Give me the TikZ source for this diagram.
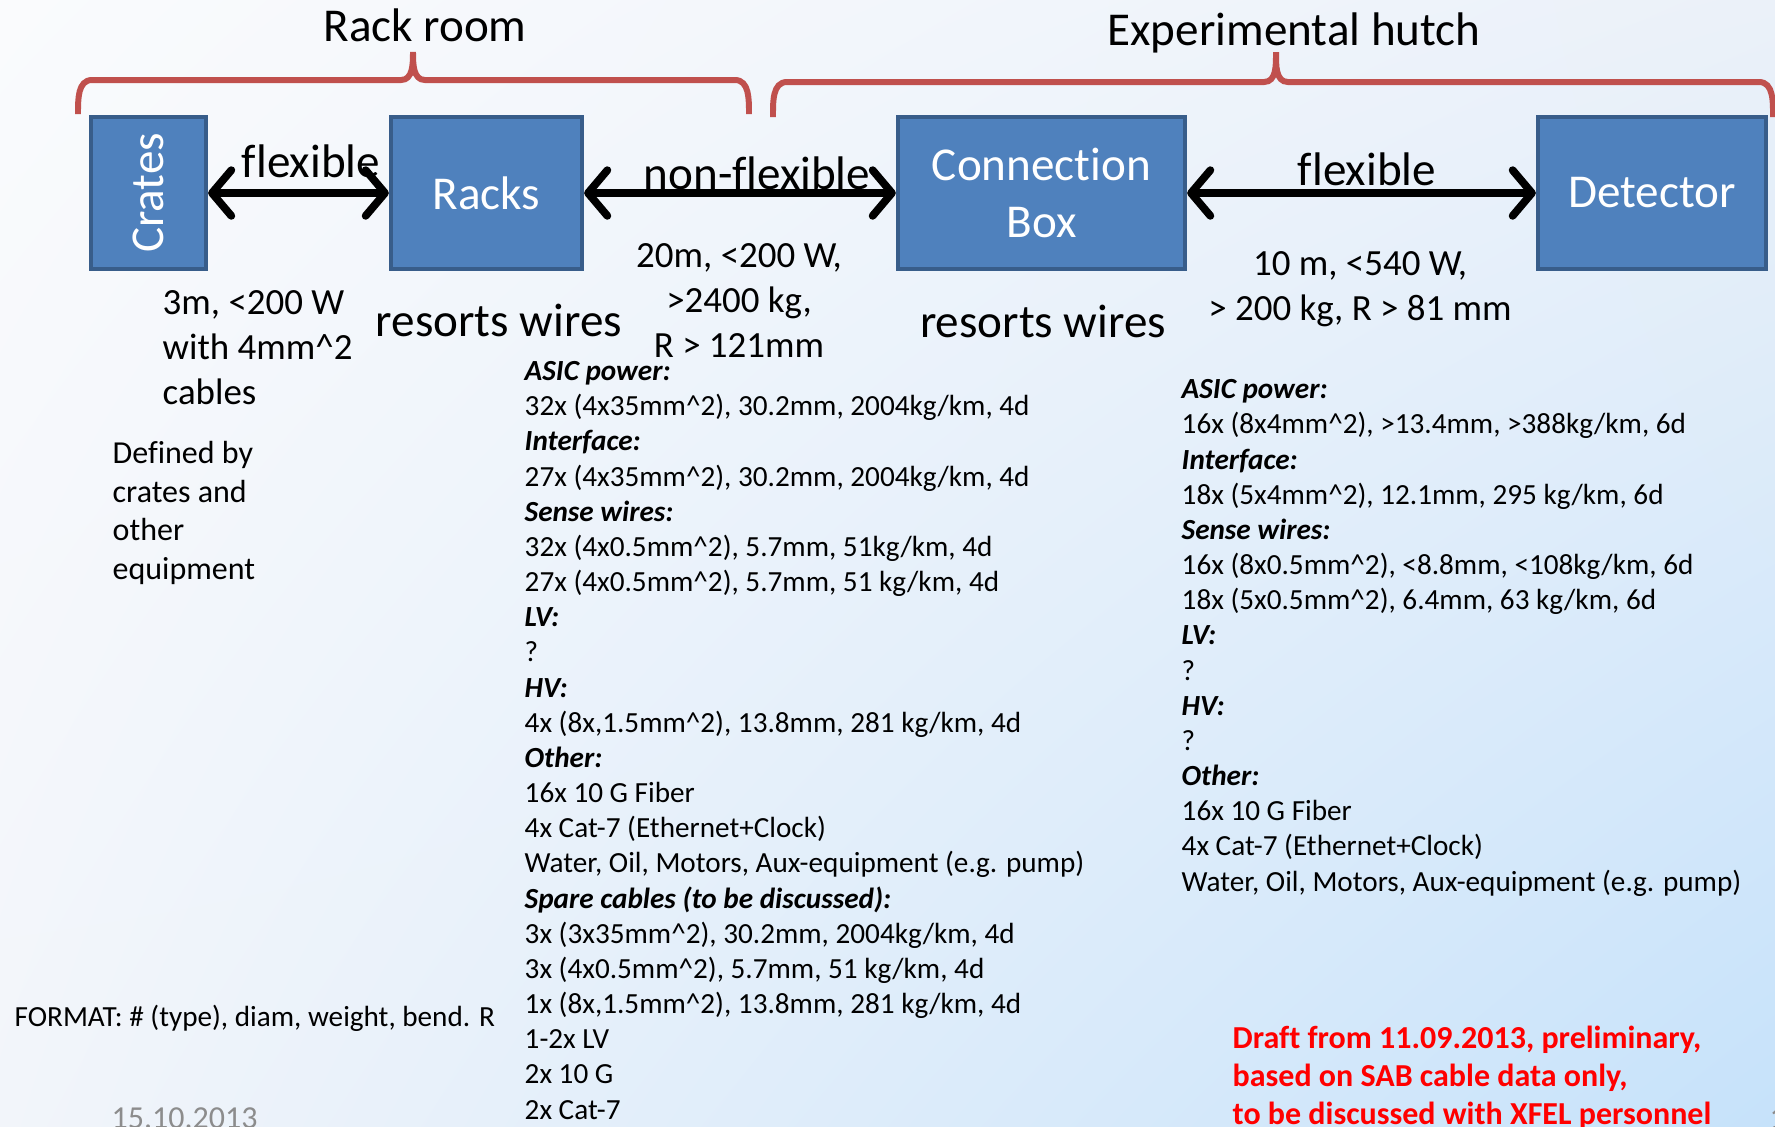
\documentclass[tikz,border=0pt]{standalone}
\usepackage{fontspec}
\setmainfont{Carlito}[Ligatures=NoCommon]
\usetikzlibrary{arrows.meta,shadings}
\definecolor{boxblue}{HTML}{4F81BD}
\definecolor{boxedge}{HTML}{385D8A}
\definecolor{bracered}{HTML}{C0504D}
\definecolor{pagegrey}{HTML}{8C8C8C}
\definecolor{bgul}{HTML}{FAFBFD}
\definecolor{bgur}{HTML}{EBF1F9}
\definecolor{bgll}{HTML}{F2F5FA}
\definecolor{bglr}{HTML}{C6E2FA}
\tikzstyle{unit}=[draw=boxedge, fill=boxblue, line width=1.2pt, text=white, inner sep=0pt, align=center, font=\fontsize{13.4}{16.2}\selectfont]
\tikzstyle{cable}=[line width=2.2pt, {Straight Barb[length=5.5pt,width=13pt,round]}-{Straight Barb[length=5.5pt,width=13pt,round]}]
\tikzstyle{brace}=[bracered, line width=1.7pt]
\tikzstyle{big}=[inner sep=0pt, font=\fontsize{13.4}{16.2}\selectfont]
\tikzstyle{mid}=[inner sep=0pt, font=\fontsize{10.5}{12.7}\selectfont]
\tikzstyle{list}=[inner sep=0pt, align=left, anchor=base west, font=\fontsize{8.3}{10}\selectfont]
\newcommand{\hdr}[1]{\textbf{\textit{#1}}}
\newcommand{\sq}{\textasciicircum}

\begin{document}
\begin{tikzpicture}[x=0.01cm, y=-0.01cm]

\useasboundingbox (0,0) rectangle (1775,1126);
\clip (0,0) rectangle (1775,1126);
\shade[upper left=bgul, upper right=bgur, lower left=bgll, lower right=bglr] (0,0) rectangle (1775,1126);

% rooms
\draw[brace] (78,114) to[out=90,in=180] (92,80) -- (401,80) to[out=0,in=-90] (413,52) to[out=-90,in=180] (425,80) -- (735,80) to[out=0,in=90] (749,114);
\draw[brace] (773,117) to[out=90,in=180] (787,82) -- (1264,82) to[out=0,in=-90] (1276,52) to[out=-90,in=180] (1288,82) -- (1759,82) to[out=0,in=90] (1773,117);
\node[big, anchor=base] (rackroom) at (425,41) {Rack room};
\node[big, anchor=base] (hutch) at (1294,45) {Experimental hutch};

% units
\node[unit, minimum width=1.15cm, minimum height=1.52cm] (crates) at (148.5,193) {\rotatebox{90}{Crates}};
\node[unit, minimum width=1.91cm, minimum height=1.52cm] (racks) at (486.5,193) {Racks};
\node[unit, minimum width=2.87cm, minimum height=1.52cm] (cbox) at (1041.5,193) {Connection\\Box};
\node[unit, minimum width=2.28cm, minimum height=1.52cm] (detector) at (1652,193) {Detector};

\draw[cable] (crates.east) -- (racks.west);
\draw[cable] (racks.east) -- (cbox.west);
\draw[cable] (cbox.east) -- (detector.west);

\node[big, anchor=base] (flexa) at (311,177) {flexible};
\node[big, anchor=base] (nonflex) at (757,189) {non-flexible};
\node[big, anchor=base] (flexb) at (1367,185) {flexible};

% cable runs (base = last line)
\node[mid, align=left, anchor=base west] (runa) at (162,404) {3m, <200 W\\with 4mm\sq 2\\cables};
\node[mid, align=center, anchor=base] (runb) at (739,357) {20m, <200 W,\\>2400 kg,\\R > 121mm};
\node[mid, align=center, anchor=base] (runc) at (1360,320) {10 m, <540 W,\\> 200 kg, R > 81 mm};

\node[big, anchor=base] (sorta) at (499,336) {resorts wires};
\node[big, anchor=base] (sortb) at (1043,337) {resorts wires};

\node[inner sep=0pt, align=left, anchor=base west, font=\fontsize{9.1}{10.95}\selectfont] (defined) at (112,579) {Defined by\\crates and\\other\\equipment};

% cable lists
\node[list] (lista) at (524,1119) {\hdr{ASIC power:}\\
32x (4x35mm\sq 2), 30.2mm, 2004kg/km, 4d\\
\hdr{Interface:}\\
27x (4x35mm\sq 2), 30.2mm, 2004kg/km, 4d\\
\hdr{Sense wires:}\\
32x (4x0.5mm\sq 2), 5.7mm, 51kg/km, 4d\\
27x (4x0.5mm\sq 2), 5.7mm, 51 kg/km, 4d\\
\hdr{LV:}\\
?\\
\hdr{HV:}\\
4x (8x,1.5mm\sq 2), 13.8mm, 281 kg/km, 4d\\
\hdr{Other:}\\
16x 10 G Fiber\\
4x Cat-7 (Ethernet+Clock)\\
Water, Oil, Motors, Aux-equipment (e.g. pump)\\
\hdr{Spare cables (to be discussed):}\\
3x (3x35mm\sq 2), 30.2mm, 2004kg/km, 4d\\
3x (4x0.5mm\sq 2), 5.7mm, 51 kg/km, 4d\\
1x (8x,1.5mm\sq 2), 13.8mm, 281 kg/km, 4d\\
1-2x LV\\
2x 10 G\\
2x Cat-7};

\node[list] (listb) at (1181,891) {\hdr{ASIC power:}\\
16x (8x4mm\sq 2), >13.4mm, >388kg/km, 6d\\
\hdr{Interface:}\\
18x (5x4mm\sq 2), 12.1mm, 295 kg/km, 6d\\
\hdr{Sense wires:}\\
16x (8x0.5mm\sq 2), <8.8mm, <108kg/km, 6d\\
18x (5x0.5mm\sq 2), 6.4mm, 63 kg/km, 6d\\
\hdr{LV:}\\
?\\
\hdr{HV:}\\
?\\
\hdr{Other:}\\
16x 10 G Fiber\\
4x Cat-7 (Ethernet+Clock)\\
Water, Oil, Motors, Aux-equipment (e.g. pump)};

\node[list] (format) at (14,1026) {FORMAT: \# (type), diam, weight, bend. R};

% footer
\node[list, text=pagegrey, font=\fontsize{9.1}{11}\selectfont] (date) at (111,1128) {15.10.2013};
\node[list, text=pagegrey, font=\fontsize{9.1}{11}\selectfont] (page) at (1769,1128) {1};
\node[list, text=red, font=\bfseries\fontsize{9.1}{10.7}\selectfont] (draft) at (1232,1124) {Draft from 11.09.2013, preliminary,\\based on SAB cable data only,\\to be discussed with XFEL personnel};

\end{tikzpicture}
\end{document}
